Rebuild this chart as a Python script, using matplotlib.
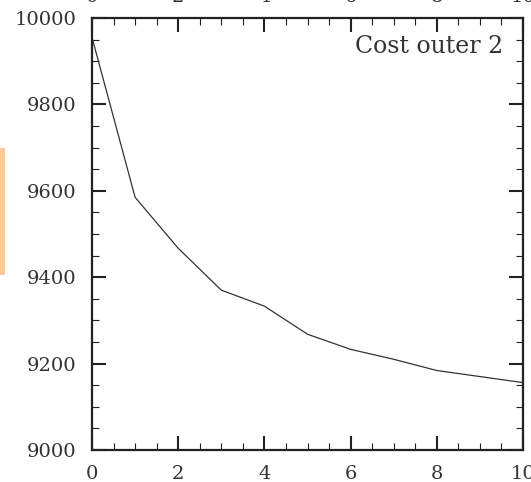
import matplotlib
matplotlib.use("Agg")
import matplotlib.pyplot as plt
from matplotlib.ticker import MultipleLocator

iterations = [0, 1, 2, 3, 4, 5, 6, 7, 8, 9, 10]
cost = [9955, 9585, 9467, 9370, 9333, 9268, 9233, 9210, 9184, 9170, 9156]
xticks = [0, 2, 4, 6, 8, 10]
yticks = [9000, 9200, 9400, 9600, 9800, 10000]
label = "Cost outer 2"

W, H = 531, 482
dpi = 100
fig = plt.figure(figsize=(W / dpi, H / dpi), dpi=dpi)
plt.rcParams['font.family'] = ['DejaVu Serif']

ax = fig.add_axes([92 / W, (H - 450) / H, 431 / W, 432 / H])
ax.plot(iterations, cost, color='#333333', lw=0.9)
ax.set_xlim(0, 10)
ax.set_ylim(9000, 10000)
ax.set_xticks(xticks)
ax.set_yticks(yticks)
ax.xaxis.set_minor_locator(MultipleLocator(0.5))
ax.yaxis.set_minor_locator(MultipleLocator(50))
ax.tick_params(which='both', direction='in', top=True, right=True,
               labelsize=14, labelcolor='#333333', color='#222222')
ax.tick_params(which='major', length=10, width=1.5, pad=11)
ax.tick_params(which='minor', length=5, width=0.8)
for s in ax.spines.values():
    s.set_linewidth(1.6)
    s.set_color('#222222')

ax.text((503 - 92) / 431, 1 - (53 - 18) / 432, label,
        transform=ax.transAxes, ha='right', va='baseline',
        fontsize=17, color='#333333')

# cut-off tick labels of the panel above
for xv in xticks:
    fx = (92 + xv * 43.1) / W
    fig.text(fx, 1 - 2.5 / H, str(xv), ha='center', va='baseline',
             fontsize=14, color='#333333')

# orange marker bar at left edge
fig.patches.append(plt.Rectangle((0, (H - 275) / H), 4.5 / W, 127 / H,
                                 transform=fig.transFigure, facecolor='#FCCB99',
                                 edgecolor='none'))

fig.savefig("out.png", dpi=dpi)
